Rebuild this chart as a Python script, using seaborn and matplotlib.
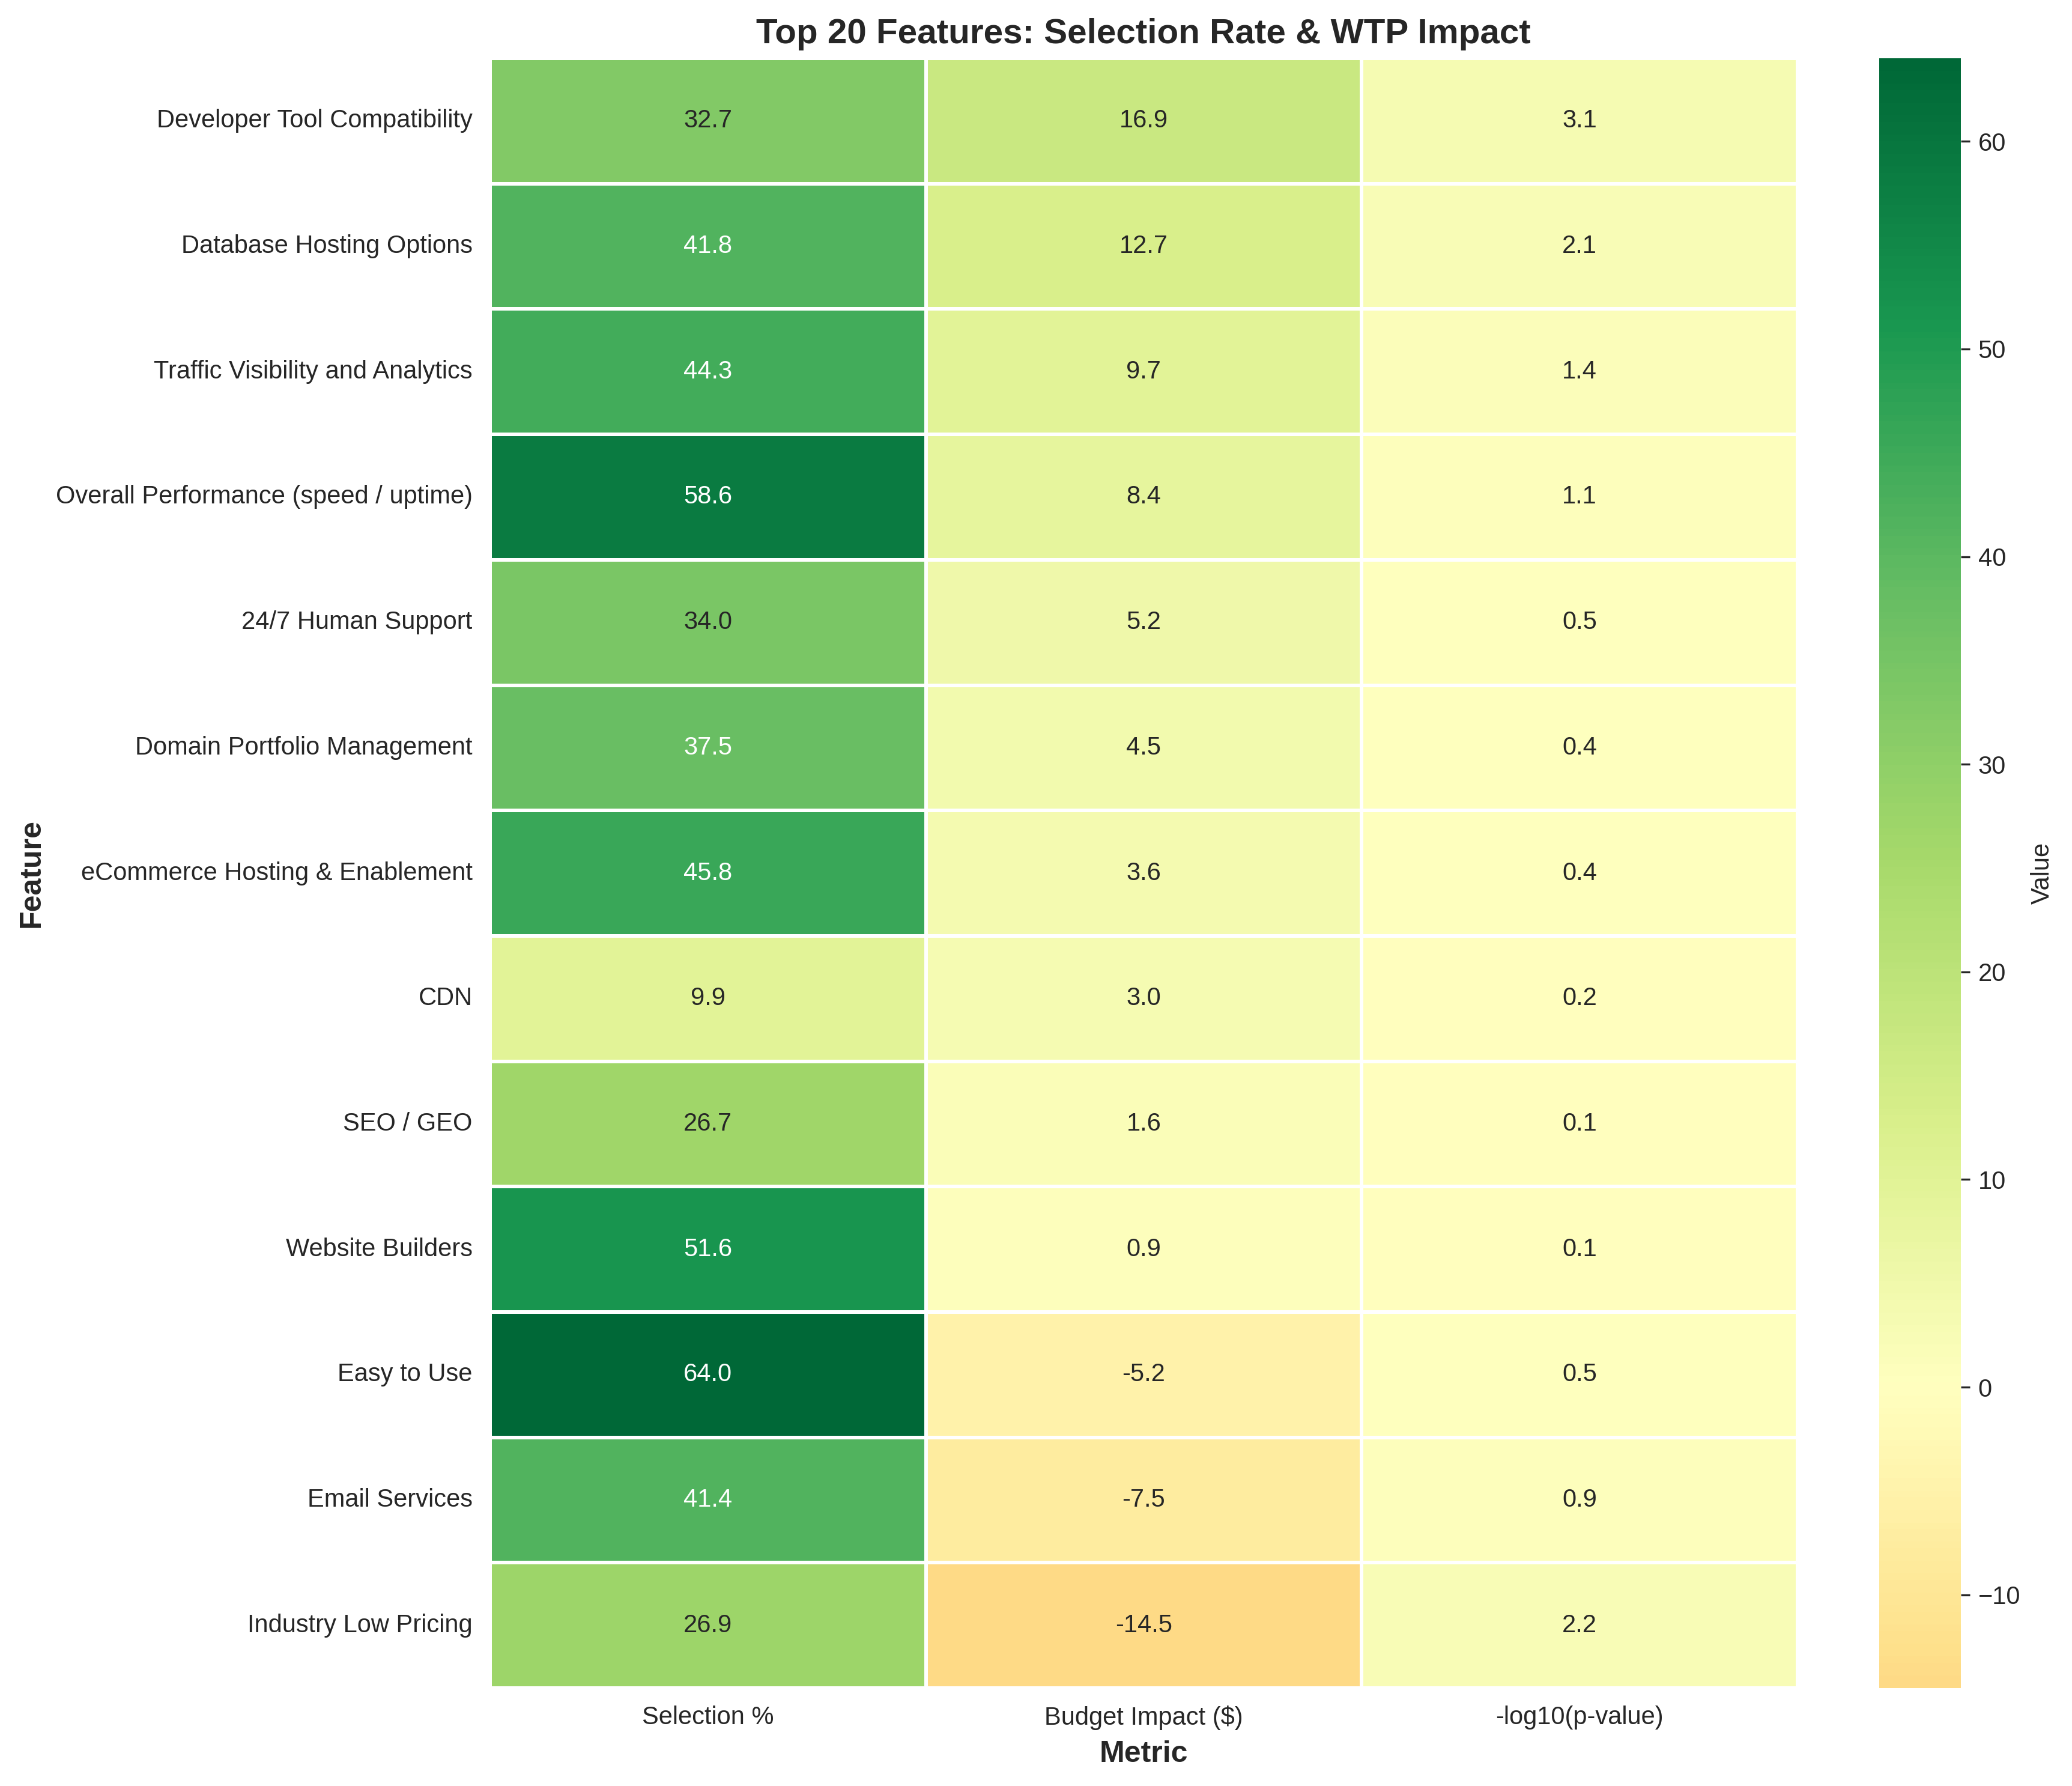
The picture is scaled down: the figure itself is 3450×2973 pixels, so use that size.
import numpy as np
import pandas as pd
import matplotlib
matplotlib.use('Agg')
import matplotlib.pyplot as plt
import seaborn as sns

features = [
    'Developer Tool Compatibility',
    'Database Hosting Options',
    'Traffic Visibility and Analytics',
    'Overall Performance (speed / uptime)',
    '24/7 Human Support',
    'Domain Portfolio Management',
    'eCommerce Hosting & Enablement',
    'CDN',
    'SEO / GEO',
    'Website Builders',
    'Easy to Use',
    'Email Services',
    'Industry Low Pricing',
]
selection_pct = [32.7, 41.8, 44.3, 58.6, 34.0, 37.5, 45.8, 9.9, 26.7, 51.6, 64.0, 41.4, 26.9]
budget_impact = [16.9, 12.7, 9.7, 8.4, 5.2, 4.5, 3.6, 3.0, 1.6, 0.9, -5.2, -7.5, -14.5]
neg_log_p = [3.1, 2.1, 1.4, 1.1, 0.5, 0.4, 0.4, 0.2, 0.1, 0.1, 0.5, 0.9, 2.2]
metrics = ['Selection %', 'Budget Impact ($)', '-log10(p-value)']

sns.set_style('whitegrid')
plt.rcParams['font.family'] = ['Liberation Sans', 'DejaVu Sans']

df = pd.DataFrame({metrics[0]: selection_pct, metrics[1]: budget_impact, metrics[2]: neg_log_p},
                  index=features)

fig, ax = plt.subplots(figsize=(12, 10))
sns.heatmap(df, annot=True, fmt='.1f', cmap='RdYlGn', center=0, linewidths=1, linecolor='white',
            cbar_kws={'label': 'Value'}, annot_kws={'fontsize': 10}, ax=ax)
ax.set_title('Top 20 Features: Selection Rate & WTP Impact', fontsize=14, fontweight='bold')
ax.set_xlabel('Metric', fontsize=12, fontweight='bold')
ax.set_ylabel('Feature', fontsize=12, fontweight='bold')
ax.tick_params(axis='x', labelsize=10, rotation=0)
ax.tick_params(axis='y', labelsize=10, rotation=0)
cbar = ax.collections[0].colorbar
cbar.ax.tick_params(labelsize=10)
cbar.set_label('Value', fontsize=10)
plt.tight_layout()
fig.savefig('out.png', dpi=300, bbox_inches='tight')
